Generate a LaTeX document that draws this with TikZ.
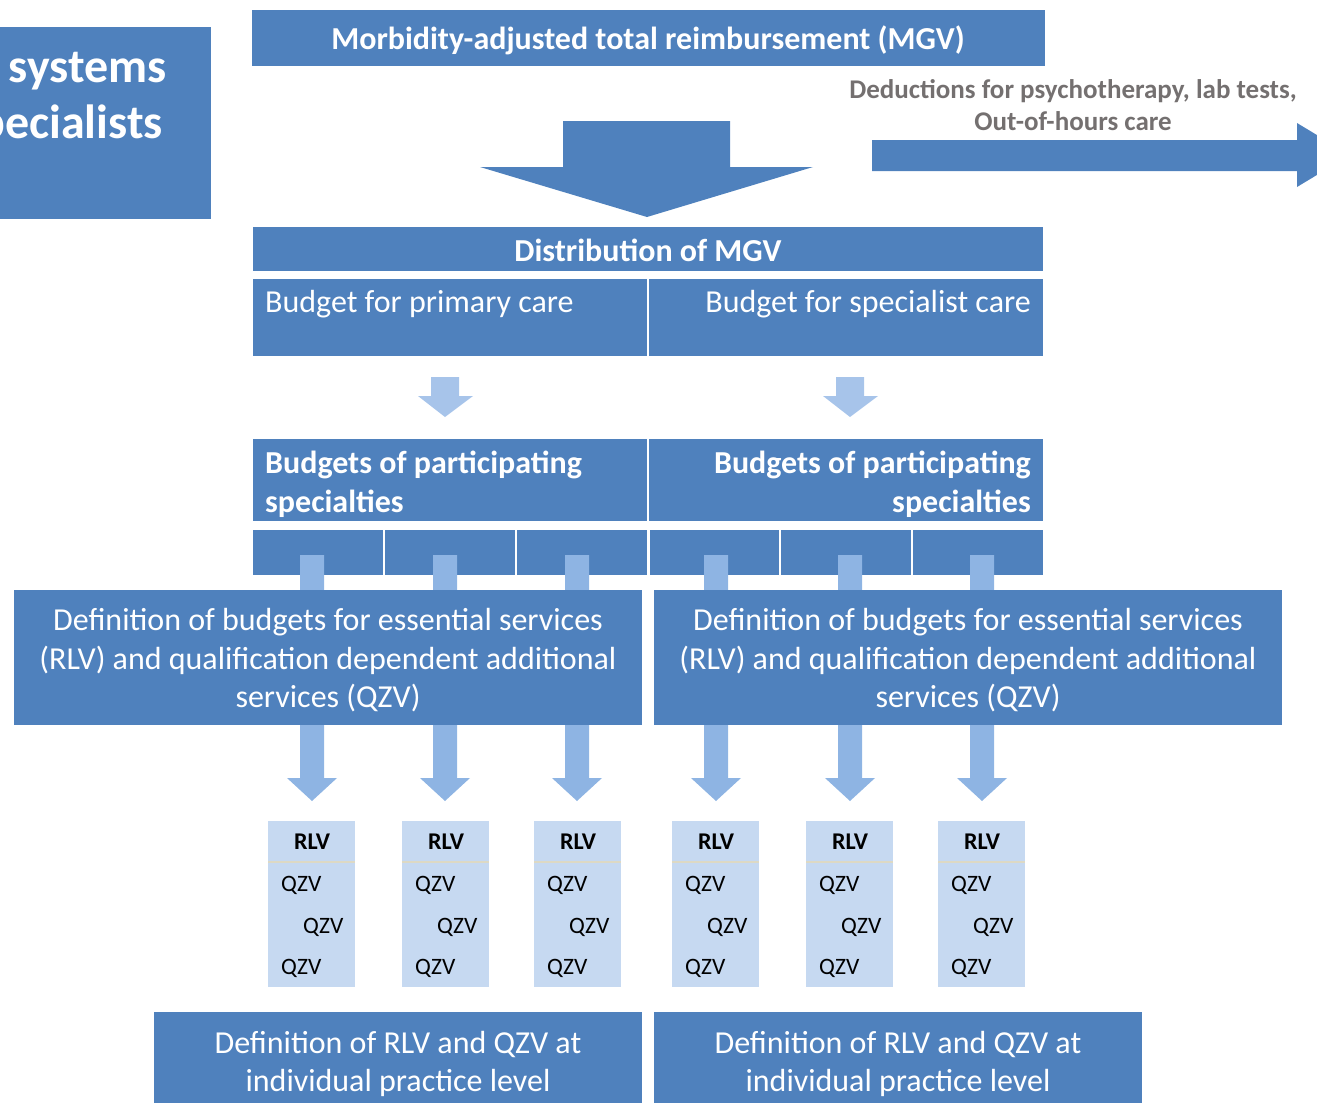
\documentclass[tikz,border=0pt]{standalone}
\usepackage{fontspec}
\setmainfont{Carlito}
\definecolor{mblue}{HTML}{4F81BD}
\definecolor{lblue}{HTML}{A7C4EA}
\definecolor{bblue}{HTML}{8EB4E3}
\definecolor{pblue}{HTML}{C6D9F1}
\definecolor{gtext}{HTML}{747070}
\definecolor{sepl}{HTML}{DDD9C4}
\newcommand{\fsz}[2]{\fontsize{#1}{#2}\selectfont}
\begin{document}
\begin{tikzpicture}[x=1pt,y=-1pt,
  box/.style={fill=mblue,draw=none,inner sep=0pt,text=white,anchor=north west},
  pbox/.style={fill=pblue,draw=none,inner sep=0pt,anchor=north west,minimum width=87pt,minimum height=166pt},
  larrow/.style={fill=lblue,draw=none},
  barrow/.style={fill=bblue,draw=none},
  wtext/.style={inner sep=0pt,text=white},
]
\useasboundingbox (0,0) rectangle (1317,1103);
\clip (0,0) rectangle (1317,1103);

% left cut box
\node[box,minimum width=211pt,minimum height=192pt] (side) at (0,27) {};
\node[anchor=base east,wtext,font=\fsz{48}{52}\bfseries] (sideA) at (167,82) {systems};
\node[anchor=base east,wtext,font=\fsz{48}{52}\bfseries] (sideB) at (163,138) {specialists};

% title
\node[box,minimum width=793pt,minimum height=56pt] (title) at (252,10) {};
\node[anchor=base,wtext,font=\fsz{32}{36}\bfseries] (titlet) at (648,49) {Morbidity-adjusted total reimbursement (MGV)};

% big down arrow
\fill[mblue] (563,121) -- (730,121) -- (730,167) -- (813,167) -- (647,217) -- (480,167) -- (563,167) -- cycle;

% deductions
\node[anchor=base,inner sep=0pt,text=gtext,font=\fsz{27}{32}\bfseries] (ded1) at (1073,98) {Deductions for psychotherapy, lab tests,};
\node[anchor=base,inner sep=0pt,text=gtext,font=\fsz{27}{32}\bfseries] (ded2) at (1073,130) {Out-of-hours care};
\fill[mblue] (872,140) -- (1297,140) -- (1297,123) -- (1350,155) -- (1297,187) -- (1297,171) -- (872,171) -- cycle;

% distribution
\node[box,minimum width=790pt,minimum height=44pt] (dist) at (253,227) {};
\node[anchor=base,wtext,font=\fsz{32}{36}\bfseries] (distt) at (648,261) {Distribution of MGV};

% budgets
\node[box,minimum width=394pt,minimum height=77pt] (bp) at (253,279) {};
\node[box,minimum width=394pt,minimum height=77pt] (bs) at (649,279) {};
\node[anchor=base west,wtext,font=\fsz{32}{36}] (bpt) at (265,312) {Budget for primary care};
\node[anchor=base east,wtext,font=\fsz{32}{36}] (bst) at (1031,312) {Budget for specialist care};

% small light arrows
\fill[larrow] (431,377) -- (459,377) -- (459,396) -- (473,396) -- (445,417) -- (418,396) -- (431,396) -- cycle;
\fill[larrow] (836,377) -- (864,377) -- (864,396) -- (878,396) -- (850,417) -- (823,396) -- (836,396) -- cycle;

% participating specialties
\node[box,minimum width=394pt,minimum height=82pt] (ps1) at (253,439) {};
\node[box,minimum width=394pt,minimum height=82pt] (ps2) at (649,439) {};
\node[anchor=base west,wtext,font=\fsz{32}{36}\bfseries] (ps1a) at (265,473) {Budgets of participating};
\node[anchor=base west,wtext,font=\fsz{32}{36}\bfseries] (ps1b) at (265,512) {specialties};
\node[anchor=base east,wtext,font=\fsz{32}{36}\bfseries] (ps2a) at (1031,473) {Budgets of participating};
\node[anchor=base east,wtext,font=\fsz{32}{36}\bfseries] (ps2b) at (1031,512) {specialties};

% six small boxes
\foreach \x/\w/\n in {253/130/1,385/130/2,517/130/3,650/129/4,781/130/5,913/130/6}{
  \node[box,minimum width=\w pt,minimum height=45pt] (sb\n) at (\x,530) {};
}

% bars and arrows
\foreach \c/\n in {312/1,445/2,577/3,716/4,850/5,982/6}{
  \fill[barrow] (\c-12,555) -- (\c+12,555) -- (\c+12,778) -- (\c+25,778) -- (\c,801) -- (\c-25,778) -- (\c-12,778) -- cycle;
}

% definition boxes
\foreach \x/\n in {14/1,654/2}{
  \node[box,minimum width=628pt,minimum height=135pt] (def\n) at (\x,590) {};
  \node[anchor=base,wtext,font=\fsz{32}{36}] (def\n a) at (\x+314,630) {Definition of budgets for essential services};
  \node[anchor=base,wtext,font=\fsz{32}{36}] (def\n b) at (\x+314,669) {(RLV) and qualification dependent additional};
  \node[anchor=base,wtext,font=\fsz{32}{36}] (def\n c) at (\x+314,707) {services (QZV)};
}

% RLV/QZV boxes
\foreach \x/\n in {268/1,402/2,534/3,672/4,806/5,938/6}{
  \node[pbox] (p\n) at (\x,821) {};
  \draw[sepl,line width=1.2pt] (p\n.north west) ++(0,41) -- ++(87,0);
  \node[anchor=base,inner sep=0pt,font=\fsz{24}{28}\bfseries] (r\n) at (\x+44,849) {RLV};
  \node[anchor=base west,inner sep=0pt,font=\fsz{23.5}{28}] (qa\n) at (\x+13,891) {QZV};
  \node[anchor=base west,inner sep=0pt,font=\fsz{23.5}{28}] (qb\n) at (\x+35,933) {QZV};
  \node[anchor=base west,inner sep=0pt,font=\fsz{23.5}{28}] (qc\n) at (\x+13,974) {QZV};
}

% bottom boxes
\foreach \x/\n in {154/1,654/2}{
  \node[box,minimum width=488pt,minimum height=91pt] (bot\n) at (\x,1012) {};
  \node[anchor=base,wtext,font=\fsz{32}{36}] (bot\n a) at (\x+244,1053) {Definition of RLV and QZV at};
  \node[anchor=base,wtext,font=\fsz{32}{36}] (bot\n b) at (\x+244,1091) {individual practice level};
}
\end{tikzpicture}
\end{document}
